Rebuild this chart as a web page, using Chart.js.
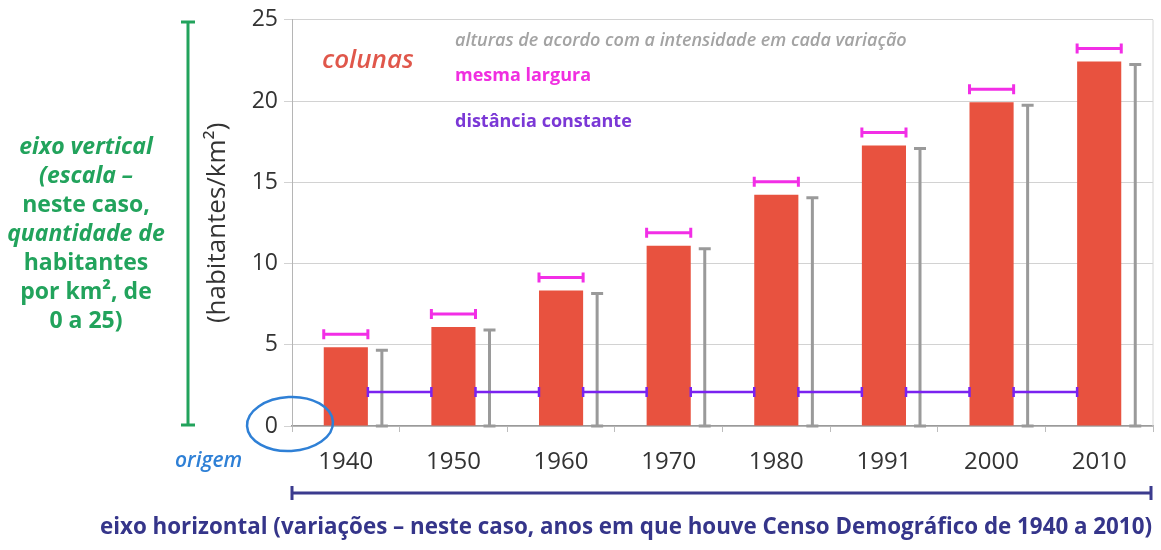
<!DOCTYPE html>
<html lang="pt-BR">
<head>
  <meta charset="UTF-8" />
  <title>Densidade demográfica - Censos 1940 a 2010</title>
  <script src="https://cdn.jsdelivr.net/npm/chart.js"></script>
  <style>
    body {
      margin: 0;
      background: #ffffff;
    }
    .chart-box {
      width: 1161px;
      height: 550px;
    }
  </style>
</head>
<body>

  <div class="chart-box">
    <canvas id="densityChart"></canvas>
  </div>

  <script>
    // censos e densidade (habitantes/km²)
    const years = ['1940', '1950', '1960', '1970', '1980', '1991', '2000', '2010'];
    const density = [4.84, 6.10, 8.34, 11.10, 14.23, 17.26, 19.92, 22.43];
    const yTicks = [0, 5, 10, 15, 20, 25];
    const spacingLevel = 2.1; // altura das marcas de "distância constante"

    const hand = "'Open Sans', 'Noto Sans', sans-serif";
    const plain = "'Open Sans', 'Noto Sans', sans-serif";

    function capLineH(ctx, x1, x2, y, cap) {
      ctx.beginPath();
      ctx.moveTo(x1, y); ctx.lineTo(x2, y);
      ctx.moveTo(x1, y - cap); ctx.lineTo(x1, y + cap);
      ctx.moveTo(x2, y - cap); ctx.lineTo(x2, y + cap);
      ctx.stroke();
    }

    function capLineV(ctx, x, y1, y2, cap) {
      ctx.beginPath();
      ctx.moveTo(x, y1); ctx.lineTo(x, y2);
      ctx.moveTo(x - cap, y1); ctx.lineTo(x + cap, y1);
      ctx.moveTo(x - cap, y2); ctx.lineTo(x + cap, y2);
      ctx.stroke();
    }

    // marcas explicativas em volta do gráfico
    const notes = {
      id: 'notes',
      afterDatasetsDraw(chart) {
        const { ctx, chartArea: area, scales: { y } } = chart;
        const bars = chart.getDatasetMeta(0).data;
        ctx.save();

        // borda direita da área
        ctx.strokeStyle = '#d6d6d6';
        ctx.lineWidth = 1;
        ctx.beginPath();
        ctx.moveTo(area.right, area.top); ctx.lineTo(area.right, area.bottom);
        ctx.stroke();

        bars.forEach((bar, i) => {
          const left = bar.x - bar.width / 2;
          const right = bar.x + bar.width / 2;

          // altura: traço cinza ao lado da coluna
          ctx.strokeStyle = '#9a9a9a';
          ctx.lineWidth = 3;
          capLineV(ctx, right + 14, y.getPixelForValue(density[i]) + 3, y.getPixelForValue(0), 6);

          // mesma largura: traço magenta acima da coluna
          ctx.strokeStyle = '#f22ee6';
          ctx.lineWidth = 3;
          capLineH(ctx, left, right, bar.y - 13, 5);

          // distância constante entre colunas
          if (i < bars.length - 1) {
            const next = bars[i + 1];
            ctx.strokeStyle = '#7a22f0';
            ctx.lineWidth = 2.5;
            capLineH(ctx, right, next.x - next.width / 2, y.getPixelForValue(spacingLevel), 5);
          }
        });

        // eixo vertical (verde)
        ctx.strokeStyle = '#22a35c';
        ctx.lineWidth = 3;
        capLineV(ctx, 188, 22, 425, 7);

        // eixo horizontal (azul escuro)
        ctx.strokeStyle = '#3b3b8e';
        ctx.lineWidth = 3;
        capLineH(ctx, area.left, area.right - 2, 493, 7);

        // origem
        ctx.strokeStyle = '#2f80d6';
        ctx.lineWidth = 2.5;
        ctx.beginPath();
        ctx.ellipse(290, 424, 43, 27, -0.05, 0, Math.PI * 2);
        ctx.stroke();

        ctx.textBaseline = 'middle';
        ctx.textAlign = 'left';
        ctx.fillStyle = '#2f80d6';
        ctx.font = `italic 600 21px ${hand}`;
        ctx.fillText('origem', 175, 461, 72);

        ctx.fillStyle = '#e0574b';
        ctx.font = `italic 600 26px ${hand}`;
        ctx.fillText('colunas', 322, 61, 95);

        ctx.fillStyle = '#a3a3a3';
        ctx.font = `italic 600 18px ${hand}`;
        ctx.fillText('alturas de acordo com a intensidade em cada variação', 455, 41, 490);

        ctx.fillStyle = '#f02ee0';
        ctx.font = `bold 18px ${hand}`;
        ctx.fillText('mesma largura', 455, 76, 136);

        ctx.fillStyle = '#7b38d6';
        ctx.fillText('distância constante', 455, 122, 186);

        // legenda do eixo vertical
        ctx.fillStyle = '#22a35c';
        ctx.textAlign = 'center';
        const greenLines = [
          ['eixo vertical', true],
          ['(escala –', true],
          ['neste caso,', false],
          ['quantidade de', true],
          ['habitantes', false],
          ['por km², de', false],
          ['0 a 25)', false]
        ];
        greenLines.forEach(([txt, it], k) => {
          ctx.font = `${it ? 'italic ' : ''}bold 23px ${hand}`;
          ctx.fillText(txt, 86, 147 + k * 29, 160);
        });

        // legenda do eixo horizontal
        ctx.fillStyle = '#35358a';
        ctx.textAlign = 'left';
        ctx.font = `bold 24px ${hand}`;
        ctx.fillText('eixo horizontal (variações – neste caso, anos em que houve Censo Demográfico de 1940 a 2010)', 100, 527, 1052);

        ctx.restore();
      }
    };

    const ctx = document.getElementById('densityChart').getContext('2d');

    new Chart(ctx, {
      type: 'bar',
      data: {
        labels: years,
        datasets: [{
          data: density,
          backgroundColor: '#e8523f',
          barPercentage: 0.41,
          categoryPercentage: 1
        }]
      },
      options: {
        responsive: true,
        maintainAspectRatio: false,
        animation: false,
        layout: {
          padding: { left: 198, top: 18, right: 8, bottom: 74 }
        },
        plugins: {
          legend: { display: false },
          tooltip: { enabled: false }
        },
        scales: {
          x: {
            afterFit: (scale) => { scale.height = 50; },
            grid: {
              offset: true,
              drawOnChartArea: false,
              tickLength: 6,
              color: '#bdbdbd'
            },
            border: { color: '#9a9a9a', width: 1.5 },
            ticks: {
              color: '#333333',
              padding: 16,
              font: { family: plain, size: 24 }
            }
          },
          y: {
            min: 0,
            max: 25,
            afterFit: (scale) => { scale.width = 94; },
            afterBuildTicks: (scale) => {
              scale.ticks = yTicks.map(v => ({ value: v }));
            },
            grid: {
              color: '#d2d2d2',
              tickLength: 8
            },
            border: { color: '#b5b5b5' },
            ticks: {
              color: '#333333',
              padding: 6,
              font: { family: plain, size: 23 }
            },
            title: {
              display: true,
              text: '(habitantes/km²)',
              color: '#333333',
              font: { family: plain, size: 26 },
              padding: { top: 4, bottom: 4 }
            }
          }
        }
      },
      plugins: [notes]
    });
  </script>
</body>
</html>
